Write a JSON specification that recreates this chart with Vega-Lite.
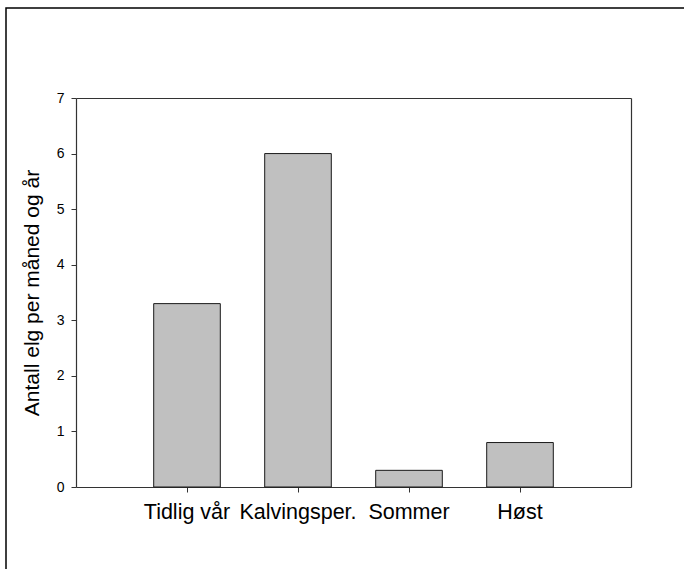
{
  "$schema": "https://vega.github.io/schema/vega-lite/v6.json",
  "width": 690,
  "height": 575,
  "autosize": {"type": "none"},
  "padding": {"left": 6, "top": 8, "right": 0, "bottom": 0},
  "background": "white",
  "view": {"stroke": "#000000", "strokeWidth": 1.5, "fill": "white"},
  "config": {"font": "Liberation Sans"},
  "data": {
    "values": [
      {"season": "Tidlig vår", "value": 3.3},
      {"season": "Kalvingsper.", "value": 6.0},
      {"season": "Sommer", "value": 0.3},
      {"season": "Høst", "value": 0.8}
    ]
  },
  "layer": [
    {
      "mark": {"type": "bar", "fill": "#c0c0c0", "stroke": "#1a1a1a", "strokeWidth": 1},
      "encoding": {
        "x": {
          "field": "season", "type": "nominal", "sort": null,
          "scale": {"domain": ["Tidlig vår", "Kalvingsper.", "Sommer", "Høst"], "range": [70, 625], "paddingInner": 0.4, "paddingOuter": 0.7},
          "axis": {"orient": "bottom", "offset": -96, "title": null, "labelAngle": 0, "labelFontSize": 21.5, "labelColor": "#000000", "labelPadding": 9, "tickSize": 5, "tickColor": "#333333", "domainColor": "#333333", "domainWidth": 1.2, "labelFont": "Liberation Sans"}
        },
        "y": {
          "field": "value", "type": "quantitative",
          "scale": {"domain": [0, 7], "range": [479, 90], "nice": false, "zero": true},
          "axis": {"orient": "left", "offset": -70, "title": "Antall elg per måned og år", "titleFontSize": 21, "titleFontWeight": "normal", "titleColor": "#000000", "titlePadding": 14, "titleFont": "Liberation Sans", "values": [0, 1, 2, 3, 4, 5, 6, 7], "grid": false, "labelFontSize": 14, "labelColor": "#000000", "labelPadding": 7, "tickSize": 5, "tickColor": "#333333", "domainColor": "#333333", "domainWidth": 1.2, "labelFont": "Liberation Sans"}
        }
      }
    },
    {
      "mark": {"type": "bar", "opacity": 0},
      "encoding": {
        "x": {"field": "season", "type": "nominal", "sort": null,
          "axis": {"orient": "top", "offset": -90, "title": null, "labels": false, "ticks": false, "domainColor": "#333333", "domainWidth": 1.2}},
        "y": {"field": "value", "type": "quantitative",
          "axis": {"orient": "right", "offset": -65, "title": null, "labels": false, "ticks": false, "grid": false, "domainColor": "#333333", "domainWidth": 1.2}}
      }
    }
  ],
  "resolve": {"axis": {"x": "independent", "y": "independent"}}
}
